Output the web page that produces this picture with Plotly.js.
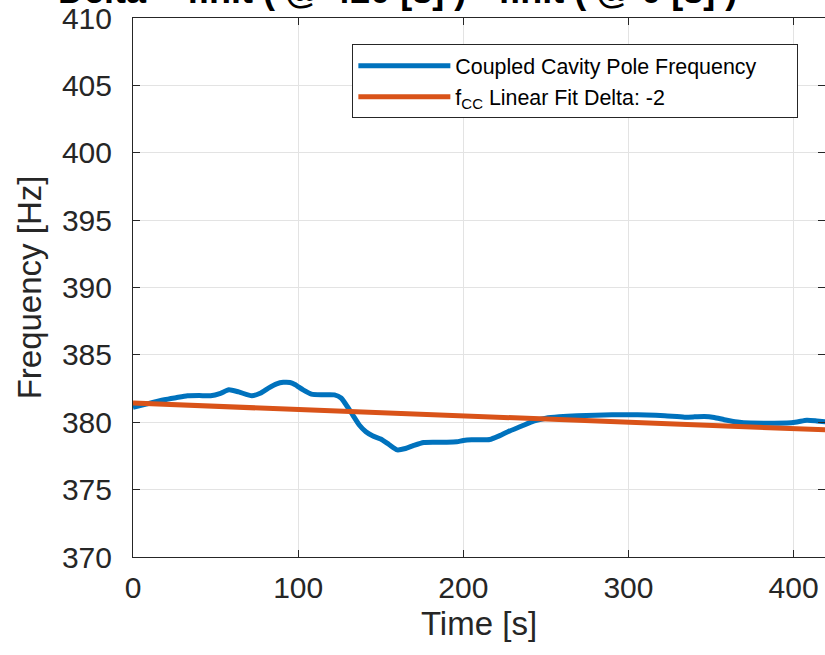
<!DOCTYPE html>
<html>
<head>
<meta charset="utf-8">
<script src="https://cdn.plot.ly/plotly-3.0.1.min.js"></script>
<style>html,body{margin:0;padding:0;background:#fff;}#chart{width:825px;height:655px;}</style>
</head>
<body>
<div id="chart"></div>
<script>
// Coupled cavity pole frequency
const timeS = [0, 8, 19, 26, 33, 40, 47, 53, 58, 64, 72, 77, 82, 87, 91, 95, 98, 103, 108, 115, 122, 126, 129, 133, 137, 141, 145, 150, 155, 160, 165, 170, 176, 183, 190, 196, 200, 205, 210, 216, 221, 227, 235, 243, 250, 258, 269, 280, 290, 300, 311, 322, 334, 340, 346, 352, 358, 366, 374, 385, 396, 402, 408, 414, 420];
const freqHz = [381.10, 381.35, 381.67, 381.82, 381.96, 381.98, 381.97, 382.15, 382.41, 382.25, 381.96, 382.15, 382.53, 382.85, 382.96, 382.95, 382.80, 382.40, 382.09, 382.04, 382.03, 381.80, 381.30, 380.55, 379.80, 379.30, 379.00, 378.75, 378.35, 377.95, 378.05, 378.28, 378.50, 378.52, 378.52, 378.55, 378.65, 378.70, 378.70, 378.72, 378.95, 379.30, 379.70, 380.10, 380.30, 380.40, 380.48, 380.52, 380.55, 380.56, 380.54, 380.48, 380.38, 380.40, 380.43, 380.35, 380.19, 380.02, 379.94, 379.93, 379.94, 380.02, 380.15, 380.10, 380.02];
// Linear fit of f_CC
const fitTimeS = [0, 420];
const fitFreqHz = [381.42, 379.43];
const xTicks = [0, 100, 200, 300, 400];
const yTicks = [370, 375, 380, 385, 390, 395, 400, 405, 410];
const seriesNames = ['Coupled Cavity Pole Frequency&nbsp;&nbsp;&nbsp;&nbsp;&nbsp;&nbsp;', 'f<sub>CC</sub> Linear Fit Delta: -2'];
const titleText = '<b>Delta = finit ( @ 420 [s] ) - finit ( @ 0 [s] )</b>';

const FONT = 'Liberation Sans, Arial, Helvetica, sans-serif';
const AX = '#262626';

const traces = [
  {x: timeS, y: freqHz, type: 'scatter', mode: 'lines', name: seriesNames[0],
   line: {color: '#0072BD', width: 5, shape: 'spline', smoothing: 0.6}},
  {x: fitTimeS, y: fitFreqHz, type: 'scatter', mode: 'lines', name: seriesNames[1],
   line: {color: '#D95319', width: 5}}
];

const axisCommon = {
  showline: true, linecolor: AX, linewidth: 1, mirror: 'ticks',
  ticks: 'inside', ticklen: 7, tickcolor: AX, tickwidth: 1,
  showgrid: true, gridcolor: '#e3e3e3', gridwidth: 1, zeroline: false,
  tickfont: {family: FONT, size: 30, color: AX},
  automargin: false
};

const layout = {
  width: 825, height: 655,
  paper_bgcolor: '#ffffff', plot_bgcolor: '#ffffff',
  margin: {l: 133, r: 0, t: 17.5, b: 97.5},
  title: {text: titleText, font: {family: FONT, size: 36, color: '#000'},
          xref: 'container', x: 0.482, xanchor: 'center',
          yref: 'container', y: 0.995, yanchor: 'bottom'},
  xaxis: Object.assign({}, axisCommon, {
    range: [0, 419], tickmode: 'array', tickvals: xTicks, ticktext: xTicks.map(String),
    ticklabelstandoff: 4,
    title: {text: 'Time [s]', font: {family: FONT, size: 33, color: AX}, standoff: 8}
  }),
  yaxis: Object.assign({}, axisCommon, {
    range: [370, 410], tickmode: 'array', tickvals: yTicks, ticktext: yTicks.map(String),
    ticklabelstandoff: 14,
    title: {text: 'Frequency [Hz]', font: {family: FONT, size: 33, color: AX}, standoff: 10}
  }),
  showlegend: true,
  legend: {x: 0.317, y: 0.951, xanchor: 'left', yanchor: 'top',
           bgcolor: '#ffffff', bordercolor: AX, borderwidth: 1,
           font: {family: FONT, size: 21.4, color: '#000'}, itemwidth: 92,
           tracegroupgap: 0}
};

Plotly.newPlot('chart', traces, layout, {staticPlot: true, displayModeBar: false});
</script>
</body>
</html>
